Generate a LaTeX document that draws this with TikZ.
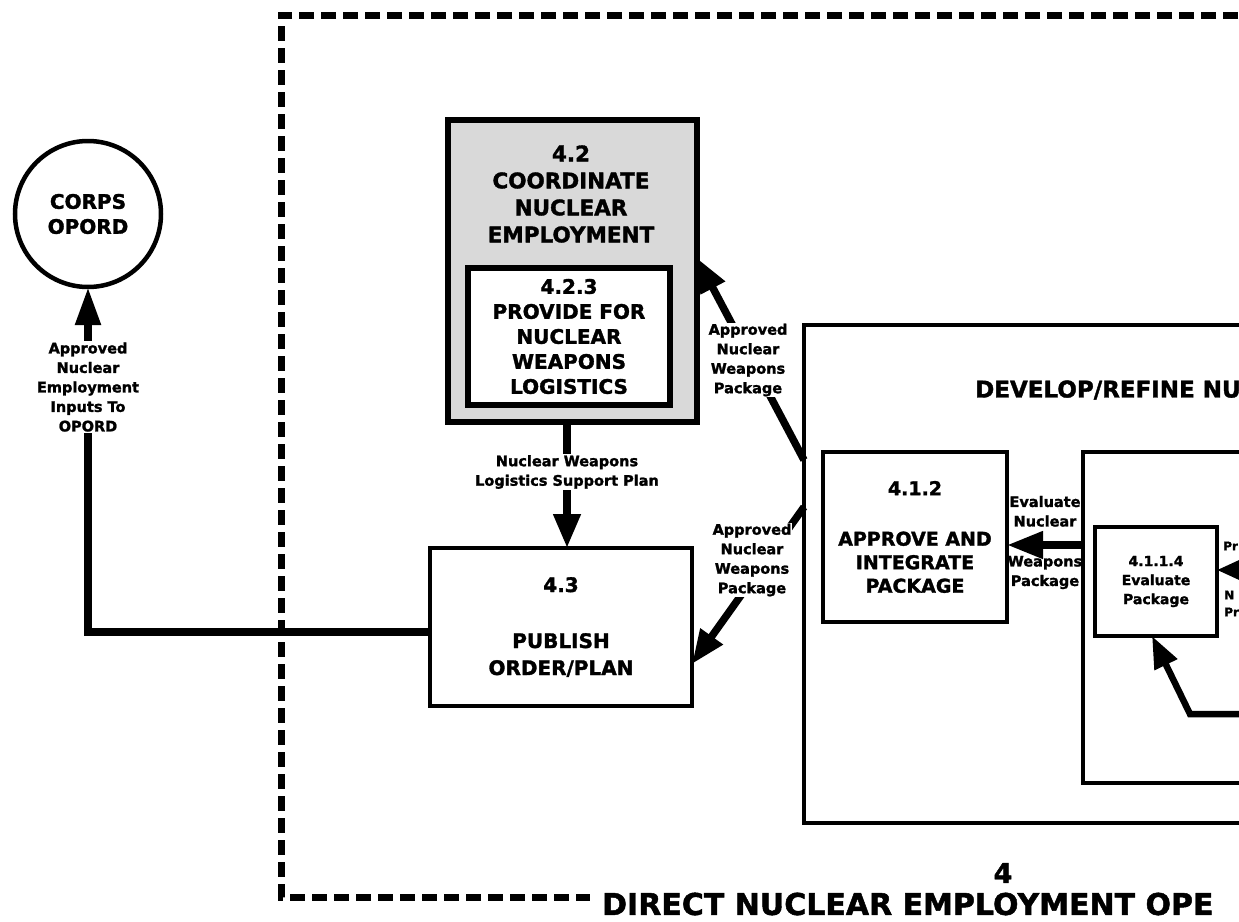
\documentclass[tikz,border=0pt]{standalone}
\usepackage{fontspec}
\setmainfont{DejaVu Sans}[BoldFeatures={FakeBold=1.6}]
\usetikzlibrary{arrows.meta}
\newcommand\labf{\fontsize{14.5}{19.5}\selectfont\bfseries}
\newcommand\smallf{\fontsize{14}{19}\selectfont\bfseries}
\begin{document}
\begin{tikzpicture}[x=1pt,y=-1pt,
  box/.style={draw, line width=4.5pt, rectangle, inner sep=0pt, outer sep=0pt, align=center},
  conn/.style={line width=7.5pt, -{Triangle[length=34pt,width=26pt]}},
  lab/.style={font=\labf, align=center, fill=white, inner sep=1pt},
  border/.style={line width=7pt, dash pattern=on 15pt off 7pt},
  frag/.style={anchor=west, inner sep=0pt, font=\fontsize{12}{14}\selectfont\bfseries}
]
\useasboundingbox (0,0) rectangle (1239,921);
\begin{scope}
\clip (0,0) rectangle (1239,921);

% outer dashed border of 4
\draw[border] (1260,15) -- (281,15) -- (281,897) -- (590,897);
\node[anchor=center, inner sep=0pt, font=\fontsize{27}{30}\selectfont\bfseries] (t4) at (1003,873) {4};
\node[anchor=west, inner sep=0pt, font=\fontsize{30}{32}\selectfont\bfseries] (t4b) at (602,904) {DIRECT NUCLEAR EMPLOYMENT OPE};

% CORPS OPORD
\node[circle, draw, line width=4.5pt, minimum size=146pt, inner sep=0pt, outer sep=0pt, align=center,
  font=\fontsize{20}{25}\selectfont\bfseries] (corps) at (88,214) {CORPS\\OPORD};

% 4.2
\node[box, line width=5.5pt, fill=black!15, minimum width=249pt, minimum height=302pt] (n42) at (572.5,271) {};
\node[align=center, inner sep=0pt, font=\fontsize{21.5}{27}\selectfont\bfseries] (n42t) at (571,194) {4.2\\COORDINATE\\NUCLEAR\\EMPLOYMENT};
\node[box, line width=5.5pt, fill=white, minimum width=202pt, minimum height=137pt,
  font=\fontsize{20}{25}\selectfont\bfseries] (n423) at (569,336.5) {4.2.3\\PROVIDE FOR\\NUCLEAR\\WEAPONS\\LOGISTICS};

% 4.3
\node[box, minimum width=262pt, minimum height=158pt, font=\fontsize{20}{27}\selectfont\bfseries] (n43) at (561,627) {4.3\\[29pt]PUBLISH\\ORDER/PLAN};

% 4.1
\node[box, minimum width=496pt, minimum height=498pt] (b41) at (1052,574) {};
\node[anchor=west, inner sep=0pt, font=\fontsize{23}{27}\selectfont\bfseries] (t41) at (975,390) {DEVELOP/REFINE NU};
\node[box, minimum width=184pt, minimum height=170pt, font=\fontsize{19}{23.5}\selectfont\bfseries] (n412) at (915,537) {4.1.2\\[27pt]APPROVE AND\\INTEGRATE\\PACKAGE};
\node[box, minimum width=217pt, minimum height=331pt] (b411) at (1191.5,617.5) {};
\node[box, minimum width=122pt, minimum height=109pt, font=\smallf] (n4114) at (1156,581.5) {4.1.1.4\\Evaluate\\Package};

% connectors
\coordinate (k1) at (88,632);
\draw[line width=8pt, -{Triangle[length=38pt,width=24pt]}] (n43.west |- k1) -- (k1) -- (corps.south);
\node[lab] (l1) at (88,387) {Approved\\Nuclear\\Employment\\Inputs To\\OPORD};

\coordinate (k2) at (567,0);
\draw[conn] (n42.south -| k2) -- (n43.north -| k2);
\node[lab] (l2) at (567,472) {Nuclear Weapons\\Logistics Support Plan};

\coordinate (k3) at (0,460);
\coordinate (k4) at (0,258);
\draw[conn] (b41.west |- k3) -- (n42.east |- k4);
\node[lab] (l3) at (748,360) {Approved\\Nuclear\\Weapons\\Package};

\coordinate (k5) at (0,507);
\coordinate (k6) at (0,664);
\draw[conn] (b41.west |- k5) -- (n43.east |- k6);
\node[lab] (l4) at (752,560) {Approved\\Nuclear\\Weapons\\Package};

\coordinate (k7) at (0,545);
\draw[conn, -{Triangle[length=36pt,width=26pt]}] (b411.west |- k7) -- (n412.east |- k7);
\node[font=\labf, align=center, inner sep=0pt] (l5) at (1045,542.5) {Evaluate\\Nuclear\\[20.5pt]Weapons\\Package};

\coordinate (r1) at (1262,570);
\draw[line width=5pt, -{Triangle[length=26pt,width=22pt]}] (r1) -- (n4114.east |- r1);
\coordinate (r2) at (1262,714);
\coordinate (r3) at (1190,714);
\coordinate (r4) at (1152,0);
\draw[line width=6.5pt, -{Triangle[length=32pt,width=24pt]}] (r2) -- (r3) -- (n4114.south -| r4);

\node[frag] (f1) at (1223,546) {Pr};
\node[frag] (f2) at (1224,595) {N};
\node[frag] (f3) at (1224,612) {Pr};
\end{scope}
\end{tikzpicture}
\end{document}
